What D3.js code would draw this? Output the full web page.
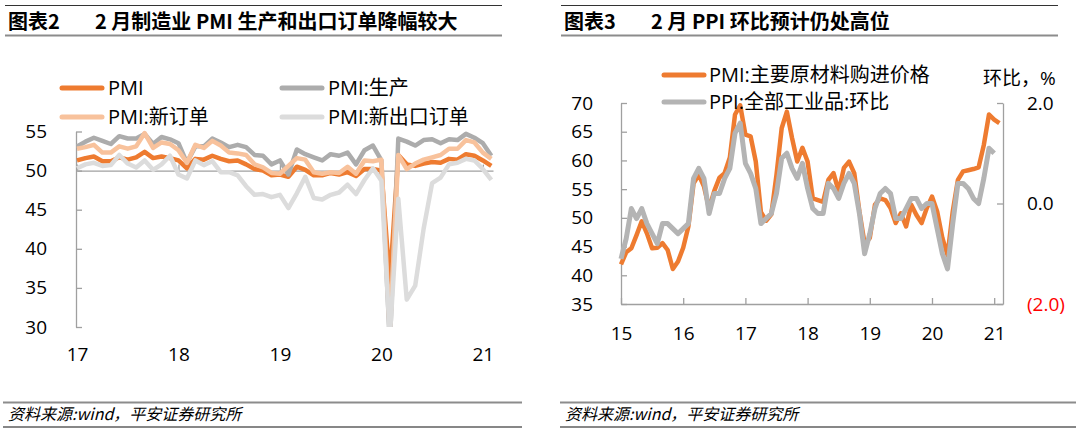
<!DOCTYPE html>
<html><head><meta charset="utf-8">
<script src="https://cdn.jsdelivr.net/npm/d3@7/dist/d3.min.js"></script>
<style>
html,body{margin:0;padding:0;background:#fff;}
svg{display:block;}
text{font-family:'Open Sans','Noto Sans CJK SC',sans-serif;}
</style></head>
<body>
<svg id="chart" width="1080" height="433"></svg>
<script>
// ---------- Data: left chart (monthly, 2017-01 .. 2021-02) ----------
const leftYears = ["17","18","19","20","21"];
const seriesPMI = [51.3,51.6,51.8,51.2,51.2,51.7,51.4,51.7,52.4,51.6,51.8,51.6,
  51.3,50.3,51.5,51.4,51.9,51.5,51.2,51.3,50.8,50.2,50.0,49.4,
  49.5,49.2,50.5,50.1,49.4,49.4,49.7,49.5,49.8,49.3,50.2,50.2,
  50.0,35.7,52.0,50.8,50.6,50.9,51.1,51.0,51.5,51.4,52.1,51.9,
  51.3,50.6];
const seriesProduction = [53.1,53.7,54.2,53.8,53.4,54.4,54.1,54.1,54.7,53.4,54.3,54.0,
  53.5,51.0,53.1,53.1,54.1,53.6,53.0,53.3,53.0,52.0,51.9,50.8,
  51.3,49.5,52.7,52.1,51.7,51.3,52.1,51.9,52.3,50.8,52.6,53.2,
  51.3,27.8,54.1,53.7,53.2,53.9,54.0,53.5,54.0,53.9,54.7,54.2,
  53.5,51.9];
const seriesNewOrders = [52.8,53.0,53.3,52.3,52.3,53.1,52.8,53.1,54.8,52.9,53.6,53.4,
  52.6,51.0,53.3,52.9,53.8,53.2,52.3,52.2,52.0,50.8,50.4,49.7,
  49.6,50.6,51.6,51.4,49.8,49.6,49.8,49.7,50.5,49.6,51.3,51.2,
  51.4,29.3,52.0,50.2,50.9,51.4,51.7,52.0,52.8,52.8,53.9,53.6,
  52.3,51.5];
const seriesExportOrders = [50.3,50.8,51.0,50.6,50.7,52.0,50.9,50.4,51.3,50.1,50.8,51.9,
  49.5,49.0,51.3,50.7,51.2,49.8,49.8,49.4,48.0,46.9,47.0,46.6,
  46.9,45.2,47.1,49.2,46.5,46.3,46.9,47.2,48.2,47.0,48.8,50.3,
  48.7,28.7,46.4,33.5,35.3,42.6,48.4,49.1,50.8,51.0,51.5,51.3,
  50.2,48.8];
const leftNames = ["PMI","PMI:生产","PMI:新订单","PMI:新出口订单"];
const leftYTicks = [30,35,40,45,50,55];

// ---------- Data: right chart (monthly, 2015-01 .. 2021-02) ----------
const rightYears = ["15","16","17","18","19","20","21"];
const seriesPriceIndex = [41.9,44.0,44.7,47.0,49.4,47.3,44.7,44.8,45.6,44.4,41.1,42.4,
  44.8,48.5,56.0,57.5,55.5,51.6,54.7,57.0,57.8,60.5,68.0,69.6,
  64.5,64.2,59.8,51.0,49.5,50.6,57.5,65.6,68.5,63.9,59.8,62.2,
  59.8,53.4,53.1,52.8,56.6,57.8,54.6,58.7,59.8,57.8,51.1,45.5,
  46.5,52.3,53.4,53.1,51.7,49.1,50.8,48.5,52.3,50.5,49.1,51.7,
  53.7,51.1,46.5,43.5,51.1,56.6,58.1,58.3,58.5,58.8,62.7,68.0,
  67.1,66.5];
const seriesPPImom = [-1.1,-0.7,-0.1,-0.3,-0.1,-0.4,-0.6,-0.8,-0.4,-0.4,-0.5,-0.6,
  -0.5,-0.4,0.5,0.7,0.5,-0.2,0.2,0.2,0.5,0.7,1.4,1.6,
  0.8,0.6,0.3,-0.4,-0.3,-0.2,0.2,0.9,1.0,0.7,0.5,0.8,
  0.3,-0.1,-0.2,-0.2,0.4,0.3,0.1,0.4,0.6,0.4,-0.2,-1.0,
  -0.6,-0.1,0.2,0.3,0.2,-0.3,-0.3,-0.1,0.1,0.1,-0.1,0.0,
  0.0,-0.5,-1.0,-1.3,-0.4,0.4,0.4,0.3,0.1,0.0,0.5,1.1,
  1.0];
const rightNames = ["PMI:主要原材料购进价格","PPI:全部工业品:环比"];
const rightLeftTicks = [35,40,45,50,55,60,65,70];
const rightRightTicks = [-2,0,2];

// ---------- Drawing ----------
const svg = d3.select("#chart");
const FONT = 19;

function frame(x1, x2, label, title, fx1, fx2) {
  svg.append("line").attr("x1",x1).attr("x2",x2).attr("y1",5.5).attr("y2",5.5)
    .attr("stroke","#333").attr("stroke-width",1);
  svg.append("line").attr("x1",x1).attr("x2",x2).attr("y1",35.5).attr("y2",35.5)
    .attr("stroke","#8c8c8c").attr("stroke-width",2);
  svg.append("text").attr("x",x1+3).attr("y",29).attr("font-size",20).attr("font-weight",700)
    .style("font-family","'Noto Sans CJK SC',sans-serif").style("fill","#000").text(label);
  svg.append("text").attr("x",x1+90).attr("y",29).attr("font-size",20).attr("font-weight",700)
    .style("font-family","'Noto Sans CJK SC',sans-serif").style("fill","#000").text(title);
  svg.append("line").attr("x1",fx1).attr("x2",fx2).attr("y1",402.5).attr("y2",402.5)
    .attr("stroke","#8c8c8c").attr("stroke-width",2);
  svg.append("line").attr("x1",fx1).attr("x2",fx2).attr("y1",427).attr("y2",427)
    .attr("stroke","#111").attr("stroke-width",1.2);
  svg.append("text").attr("x",fx1+5).attr("y",420).attr("font-size",16)
    .style("font-family","'Noto Sans CJK SC',sans-serif").style("font-style","italic")
    .style("fill","#000")
    .text("资料来源:wind，平安证券研究所");
}
frame(5, 502, "图表2", "2 月制造业 PMI 生产和出口订单降幅较大", 3, 522);
frame(561, 1058, "图表3", "2 月 PPI 环比预计仍处高位", 560, 1076);

const axisColor = "#a0a0a0";
function styleAxis(g) {
  g.selectAll("path,line").attr("stroke", axisColor).attr("stroke-width", 1.3);
  g.selectAll("text").attr("font-size", FONT).style("fill", "#000")
    .style("font-family","'Open Sans',sans-serif");
}

// ===== Left chart =====
const lx = d3.scaleLinear().domain([0, 49.2]).range([77, 493]);
const ly = d3.scaleLinear().domain([30, 55]).range([327, 131.5]);

svg.append("defs").append("clipPath").attr("id","clipL").append("rect")
  .attr("x", 70).attr("y", ly(55) - 10).attr("width", 440).attr("height", ly(30) - ly(55) + 10);

const yearTicksL = leftYears.map((d, i) => i * 12);
svg.append("g").attr("transform", `translate(${lx(0) - 1},0)`)
  .call(d3.axisLeft(ly).tickValues(leftYTicks).tickSize(-6).tickSizeOuter(0).tickPadding(29))
  .call(styleAxis);
svg.append("g").attr("transform", `translate(0,${ly(50)})`)
  .call(d3.axisBottom(lx).tickValues(yearTicksL).tickSize(-6).tickSizeOuter(0).tickFormat(""))
  .call(styleAxis);
svg.append("g").attr("transform", `translate(0,${ly(30)})`)
  .call(d3.axisBottom(lx).tickValues(yearTicksL).tickSize(0).tickPadding(21)
    .tickFormat((d, i) => leftYears[i]))
  .call(g => g.select(".domain").remove())
  .call(styleAxis);

const leftSeries = [
  {name: leftNames[0], values: seriesPMI, color: "#ee7b30"},
  {name: leftNames[1], values: seriesProduction, color: "#acacac"},
  {name: leftNames[2], values: seriesNewOrders, color: "#f8c29c"},
  {name: leftNames[3], values: seriesExportOrders, color: "#dcdcdc"}
];
const lineL = d3.line().x((d, i) => lx(i)).y(d => ly(d));
const gL = svg.append("g").attr("clip-path", "url(#clipL)");
leftSeries.forEach(s => {
  gL.append("path").datum(s.values).attr("d", lineL).attr("fill", "none")
    .attr("stroke", s.color).attr("stroke-width", 4.5).attr("stroke-linejoin", "round");
});
const legPosL = [[60, 88], [280, 88], [60, 117], [280, 117]];
leftSeries.forEach((s, i) => {
  const [x, y] = legPosL[i];
  svg.append("line").attr("x1", x + 2).attr("x2", x + 42).attr("y1", y).attr("y2", y)
    .attr("stroke", s.color).attr("stroke-width", 5).attr("stroke-linecap", "round");
  svg.append("text").attr("x", x + 48).attr("y", y).attr("dy", "0.36em")
    .attr("font-size", 20).style("fill", "#000").text(s.name);
});

// ===== Right chart =====
const rx = d3.scaleLinear().domain([0, 73.7]).range([621, 1003]);
const ryL = d3.scaleLinear().domain([35, 70]).range([304, 103]);
const ryR = d3.scaleLinear().domain([-2, 2]).range([304, 103]);
const yearTicksR = rightYears.map((d, i) => i * 12);

svg.append("g").attr("transform", `translate(${rx(0)},0)`)
  .call(d3.axisLeft(ryL).tickValues(rightLeftTicks).tickSize(-6).tickSizeOuter(0).tickPadding(28))
  .call(styleAxis);
svg.append("g").attr("transform", `translate(${rx.range()[1]},0)`)
  .call(d3.axisRight(ryR).tickValues(rightRightTicks).tickSize(-6).tickSizeOuter(0).tickPadding(24)
    .tickFormat(d => d < 0 ? `(${Math.abs(d).toFixed(1)})` : d.toFixed(1)))
  .call(styleAxis)
  .call(g => g.selectAll(".tick text").style("fill", d => d < 0 ? "#ff0000" : "#000"));
svg.append("g").attr("transform", `translate(0,${ryL(35)})`)
  .call(d3.axisBottom(rx).tickValues(yearTicksR).tickSize(-6).tickSizeOuter(0).tickPadding(23)
    .tickFormat((d, i) => rightYears[i]))
  .call(styleAxis);
svg.append("text").attr("x", 983).attr("y", 78).attr("dy", "0.36em").attr("font-size", 19)
  .style("fill", "#000").text("环比，%");

const lineP = d3.line().x((d, i) => rx(i)).y(d => ryL(d));
const lineQ = d3.line().x((d, i) => rx(i)).y(d => ryR(d));
svg.append("path").datum(seriesPriceIndex).attr("d", lineP).attr("fill", "none")
  .attr("stroke", "#ee7b30").attr("stroke-width", 4.5).attr("stroke-linejoin", "round");
svg.append("path").datum(seriesPPImom).attr("d", lineQ).attr("fill", "none")
  .attr("stroke", "#b4b4b4").attr("stroke-width", 5).attr("stroke-linejoin", "round");

const rightColors = ["#ee7b30", "#b4b4b4"];
const legPosR = [[662, 75], [662, 102]];
rightNames.forEach((n, i) => {
  const [x, y] = legPosR[i];
  svg.append("line").attr("x1", x + 2).attr("x2", x + 42).attr("y1", y).attr("y2", y)
    .attr("stroke", rightColors[i]).attr("stroke-width", 5).attr("stroke-linecap", "round");
  svg.append("text").attr("x", x + 47).attr("y", y).attr("dy", "0.36em")
    .attr("font-size", 20).style("fill", "#000").text(n);
});
</script>
</body></html>
